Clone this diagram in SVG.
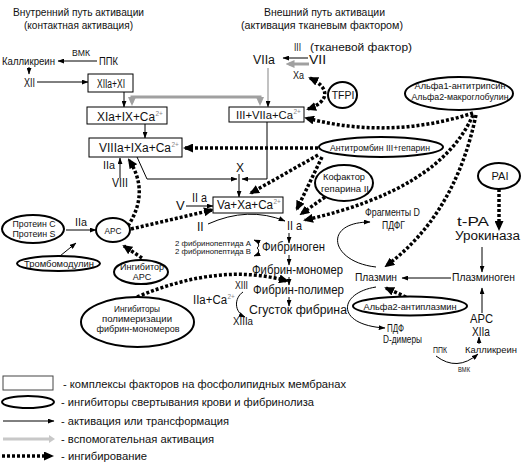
<svg xmlns="http://www.w3.org/2000/svg" width="531" height="463" viewBox="0 0 531 463">
<defs>
<marker id="ah" viewBox="0 0 8 6" markerUnits="userSpaceOnUse" markerWidth="7" markerHeight="5" refX="7.5" refY="3" orient="auto"><path d="M0,0L8,3L0,6z" fill="#000"/></marker>
<marker id="dh" viewBox="0 0 10 9" markerUnits="userSpaceOnUse" markerWidth="10" markerHeight="9" refX="8" refY="4.5" orient="auto-start-reverse"><path d="M0,0L10,4.5L0,9z" fill="#000"/></marker>
<marker id="gh" viewBox="0 0 9 8" markerUnits="userSpaceOnUse" markerWidth="9" markerHeight="8" refX="5.5" refY="4" orient="auto-start-reverse"><path d="M0,0L9,4L0,8z" fill="#a0a0a0"/></marker>
</defs>
<style>
text{font-family:"Liberation Sans",Arial,sans-serif;fill:#111}
.m{text-anchor:middle}
.box{fill:#fff;stroke:#000;stroke-width:1}
.ell{fill:#fff;stroke:#000;stroke-width:2}
.ar{fill:none;stroke:#000;stroke-width:1;marker-end:url(#ah)}
.dt{fill:none;stroke:#000;stroke-width:3.5;stroke-dasharray:3 2;marker-end:url(#dh)}
.gr{fill:none;stroke:#a0a0a0;stroke-width:3;marker-end:url(#gh)}
.sup{font-size:6.5px;fill:#888}
</style>
<rect width="531" height="463" fill="#fff"/>

<g id="headers">
<text x="13" y="16" font-size="10.5" textLength="131" lengthAdjust="spacingAndGlyphs">Внутренний путь активации</text>
<text x="24" y="29" font-size="10.5" textLength="109" lengthAdjust="spacingAndGlyphs">(контактная активация)</text>
<text x="264" y="16" font-size="10.5" textLength="121" lengthAdjust="spacingAndGlyphs">Внешний путь активации</text>
<text x="241" y="29" font-size="10.5" textLength="162" lengthAdjust="spacingAndGlyphs">(активация тканевым фактором)</text>
</g>

<g id="connectors">
<path class="ar" d="M97,61L58,61"/>
<path class="ar" d="M29,67L29,74"/>
<path class="ar" d="M37,82L88,82"/>
<path class="ar" d="M124,92L124,107"/>
<path class="ar" d="M145,124L145,138"/>
<path class="ar" d="M120,178L120,158"/>
<path class="ar" d="M137,157L147,179L237,179"/>
<path class="ar" d="M267,122L267,179L242,179"/>
<path class="ar" d="M239,174L239,197"/>
<path class="ar" d="M186,206L213,206"/>
<path class="ar" d="M208,224Q248,206 285,221"/>
<path class="ar" d="M289,233L289,243"/>
<path class="ar" d="M289,255L289,265"/>
<path class="ar" d="M289,277L289,285"/>
<path class="ar" d="M289,297L289,306"/>
<path class="ar" d="M257,248C260,246 259,242 254,240"/>
<path class="ar" d="M257,248C260,250 259,254 254,256"/>
<path class="ar" d="M243,292C234,298 234,312 245,317"/>
<path class="ar" d="M66,230L96,230"/>
<path class="ar" d="M60,256L76,243"/>
<path class="ar" d="M308,58L283,58"/>
<path class="ar" d="M482,247L482,272"/>
<path class="ar" d="M451,278L402,278"/>
<path class="ar" d="M376,267C330,262 322,222 370,222"/>
<path class="ar" d="M376,287C338,293 335,325 385,328"/>
<path class="ar" d="M482,313L482,288"/>
<path class="ar" d="M479,344L479,337"/>
<path class="ar" d="M436,356Q457,372 478,354"/>
<path class="gr" d="M309,64L289,64"/>
<path d="M268,68L268,107" fill="none" stroke="#999" stroke-width="1.2" marker-end="url(#ah)"/>
<path class="gr" d="M132,102.5L132,97L260,97L260,102.5" marker-start="url(#gh)"/>
<path class="dt" d="M310,78C331,88 329,102 308,109" marker-start="url(#dh)"/>
<path class="dt" d="M473,113Q390,140 306,118"/>
<path class="dt" d="M473,115Q440,190 305,220"/>
<path class="dt" d="M476,115Q455,215 386,266"/>
<path class="dt" d="M318,148L185,148"/>
<path class="dt" d="M318,155L251,193"/>
<path class="dt" d="M322,157L297,209"/>
<path class="dt" d="M325,197L301,214"/>
<path class="dt" d="M128,226Q150,192 129,160"/>
<path class="dt" d="M131,229L212,210"/>
<path class="dt" d="M142,258L124,246"/>
<path class="dt" d="M137,297Q220,262 287,281"/>
<path class="dt" d="M406,297L386,288"/>
<path class="dt" d="M499,189L499,229"/>
</g>

<g id="n-kallikrein-left">
<text x="72" y="56" font-size="8.5" textLength="18" lengthAdjust="spacingAndGlyphs">ВМК</text>
<text x="2" y="65" font-size="11" textLength="53" lengthAdjust="spacingAndGlyphs">Калликреин</text>
<text x="99" y="65" font-size="11" textLength="19" lengthAdjust="spacingAndGlyphs">ППК</text>
</g>
<g id="n-XII"><text x="24" y="87" font-size="12" textLength="11" lengthAdjust="spacingAndGlyphs">XII</text></g>

<g id="n-XIIa-XI">
<rect class="box" x="88" y="74" width="45" height="18"/>
<text x="97" y="88" font-size="12" textLength="28" lengthAdjust="spacingAndGlyphs">XIIa+XI</text>
</g>
<g id="n-XIa-IX">
<rect class="box" x="87" y="107" width="80" height="17"/>
<text x="97" y="121" font-size="12" textLength="58" lengthAdjust="spacingAndGlyphs">XIa+IX+Ca</text>
<text class="sup" x="155.5" y="116">2+</text>
</g>
<g id="n-VIIIa-IXa">
<rect class="box" x="89" y="138" width="93" height="19"/>
<text x="99" y="152" font-size="12" textLength="72" lengthAdjust="spacingAndGlyphs">VIIIa+IXa+Ca</text>
<text class="sup" x="171.5" y="147">2+</text>
</g>
<g id="n-III-VIIa">
<rect class="box" x="229" y="107" width="75" height="15"/>
<text x="236" y="119" font-size="11.5" textLength="57" lengthAdjust="spacingAndGlyphs">III+VIIa+Ca</text>
<text class="sup" x="293.5" y="114">2+</text>
</g>
<g id="n-Va-Xa">
<rect class="box" x="213" y="197" width="70" height="16"/>
<text x="217" y="209" font-size="12" textLength="56" lengthAdjust="spacingAndGlyphs">Va+Xa+Ca</text>
<text class="sup" x="273.5" y="204">2+</text>
</g>

<g id="n-tissue-factor">
<text x="294" y="50.5" font-size="11" textLength="7" lengthAdjust="spacingAndGlyphs">III</text>
<text x="310" y="50.5" font-size="11" textLength="102" lengthAdjust="spacingAndGlyphs">(тканевой фактор)</text>
</g>
<g id="n-VIIa"><text x="253" y="64" font-size="12.5" textLength="22" lengthAdjust="spacingAndGlyphs">VIIa</text></g>
<g id="n-VII"><text x="309" y="64" font-size="12" textLength="17" lengthAdjust="spacingAndGlyphs">VII</text></g>
<g id="n-Xa"><text x="293" y="79" font-size="10" textLength="11" lengthAdjust="spacingAndGlyphs">Xa</text></g>

<g id="n-TFPI">
<ellipse class="ell" cx="342.5" cy="95" rx="14.5" ry="13"/>
<text class="m" x="343" y="99" font-size="10.5">TFPI</text>
</g>
<g id="n-alpha">
<ellipse class="ell" cx="459" cy="93.5" rx="54" ry="16.5"/>
<text class="m" x="460" y="89" font-size="9.5" textLength="91" lengthAdjust="spacingAndGlyphs">Альфа1-антитрипсин</text>
<text class="m" x="460" y="100" font-size="9.5" textLength="97" lengthAdjust="spacingAndGlyphs">Альфа2-макроглобулин</text>
</g>
<g id="n-antithrombin">
<ellipse class="ell" cx="381" cy="147" rx="62" ry="10"/>
<text class="m" x="380" y="151" font-size="9" textLength="100" lengthAdjust="spacingAndGlyphs">Антитромбин III+гепарин</text>
</g>
<g id="n-cofactor">
<ellipse class="ell" cx="344" cy="183" rx="29" ry="18"/>
<text class="m" x="344" y="180" font-size="9" textLength="42" lengthAdjust="spacingAndGlyphs">Кофактор</text>
<text class="m" x="345" y="192" font-size="9" textLength="48" lengthAdjust="spacingAndGlyphs">гепарина II</text>
</g>
<g id="n-PAI">
<ellipse class="ell" cx="499" cy="176" rx="21" ry="13"/>
<text class="m" x="500" y="180" font-size="11">PAI</text>
</g>
<g id="n-tPA">
<text x="457" y="226" font-size="12" textLength="32" lengthAdjust="spacingAndGlyphs">t-PA</text>
<text x="455" y="240" font-size="12" textLength="65" lengthAdjust="spacingAndGlyphs">Урокиназа</text>
</g>
<g id="n-plasminogen"><text x="452" y="281" font-size="11.5" textLength="63" lengthAdjust="spacingAndGlyphs">Плазминоген</text></g>
<g id="n-plasmin"><text x="355" y="281" font-size="11.5" textLength="42" lengthAdjust="spacingAndGlyphs">Плазмин</text></g>
<g id="n-fragments">
<text x="365" y="216" font-size="11" textLength="55" lengthAdjust="spacingAndGlyphs">Фрагменты D</text>
<text x="382" y="229" font-size="11" textLength="23" lengthAdjust="spacingAndGlyphs">ПДФГ</text>
</g>
<g id="n-antiplasmin">
<ellipse class="ell" cx="410" cy="306" rx="57" ry="9.5"/>
<text class="m" x="410" y="309.5" font-size="9.5" textLength="93" lengthAdjust="spacingAndGlyphs">Альфа2-антиплазмин</text>
</g>
<g id="n-PDF">
<text x="387" y="332" font-size="11" textLength="17" lengthAdjust="spacingAndGlyphs">ПДФ</text>
<text x="383" y="343" font-size="10.5" textLength="39" lengthAdjust="spacingAndGlyphs">D-димеры</text>
</g>
<g id="n-APC-XIIa-right">
<text x="470" y="323" font-size="12" textLength="23" lengthAdjust="spacingAndGlyphs">APC</text>
<text x="472" y="336" font-size="12" textLength="18" lengthAdjust="spacingAndGlyphs">XIIa</text>
</g>
<g id="n-kallikrein-right">
<text x="433" y="353" font-size="9" textLength="14" lengthAdjust="spacingAndGlyphs">ППК</text>
<text x="465" y="353" font-size="9" textLength="52" lengthAdjust="spacingAndGlyphs">Калликреин</text>
<text x="458" y="372" font-size="8" textLength="12" lengthAdjust="spacingAndGlyphs">ВМК</text>
</g>

<g id="n-X"><text x="236" y="172" font-size="12">X</text></g>
<g id="n-V"><text x="176" y="210" font-size="13">V</text><text x="192" y="202" font-size="12" textLength="15" lengthAdjust="spacingAndGlyphs">II a</text></g>
<g id="n-II"><text x="197" y="231" font-size="12">II</text></g>
<g id="n-IIa"><text x="287" y="230" font-size="13" textLength="15" lengthAdjust="spacingAndGlyphs">II a</text></g>
<g id="n-fibrinogen"><text x="262" y="251" font-size="12.5" textLength="63" lengthAdjust="spacingAndGlyphs">Фибриноген</text></g>
<g id="n-fibrinopeptides">
<text x="175" y="246" font-size="8" textLength="76" lengthAdjust="spacingAndGlyphs">2 фибринопептида А</text>
<text x="175" y="253.5" font-size="8" textLength="76" lengthAdjust="spacingAndGlyphs">2 фибринопептида В</text>
</g>
<g id="n-monomer"><text x="252" y="274" font-size="12.5" textLength="91" lengthAdjust="spacingAndGlyphs">Фибрин-мономер</text></g>
<g id="n-polymer"><text x="253" y="294" font-size="12.5" textLength="91" lengthAdjust="spacingAndGlyphs">Фибрин-полимер</text></g>
<g id="n-clot"><text x="249" y="314" font-size="12.5" textLength="98" lengthAdjust="spacingAndGlyphs">Сгусток фибрина</text></g>
<g id="n-XIII">
<text x="235" y="289" font-size="10" textLength="13" lengthAdjust="spacingAndGlyphs">XIII</text>
<text x="193" y="304" font-size="12" textLength="34" lengthAdjust="spacingAndGlyphs">IIa+Ca</text>
<text class="sup" x="227.5" y="299">2+</text>
<text x="233" y="325" font-size="10" textLength="20" lengthAdjust="spacingAndGlyphs">XIIIa</text>
</g>

<g id="n-VIII"><text x="103" y="169" font-size="11" textLength="12" lengthAdjust="spacingAndGlyphs">IIa</text><text x="112" y="187" font-size="12" textLength="16" lengthAdjust="spacingAndGlyphs">VIII</text></g>
<g id="n-proteinCS">
<ellipse class="ell" cx="33" cy="229" rx="31" ry="14"/>
<text class="m" x="34" y="227" font-size="9" textLength="43" lengthAdjust="spacingAndGlyphs">Протеин C</text>
<text class="m" x="34" y="237" font-size="9" textLength="43" lengthAdjust="spacingAndGlyphs">Протеин S</text>
</g>
<g id="n-IIa-left"><text x="75" y="226" font-size="11" textLength="12" lengthAdjust="spacingAndGlyphs">IIa</text></g>
<g id="n-APC">
<ellipse class="ell" cx="113" cy="230" rx="17" ry="12"/>
<text class="m" x="113" y="234" font-size="9" textLength="17" lengthAdjust="spacingAndGlyphs">APC</text>
</g>
<g id="n-thrombomodulin">
<ellipse class="ell" cx="58.5" cy="263.5" rx="41.5" ry="7.5"/>
<text class="m" x="59" y="267" font-size="9.5" textLength="70" lengthAdjust="spacingAndGlyphs">Тромбомодулин</text>
</g>
<g id="n-APC-inhibitor">
<ellipse class="ell" cx="141" cy="272" rx="27" ry="12"/>
<text class="m" x="142" y="270" font-size="9">Ингибитор</text>
<text class="m" x="142" y="280" font-size="9">APC</text>
</g>
<g id="n-polymerization-inhibitors">
<ellipse class="ell" cx="137.5" cy="322" rx="56.5" ry="25"/>
<text class="m" x="137" y="312" font-size="9.5" textLength="46" lengthAdjust="spacingAndGlyphs">Ингибиторы</text>
<text class="m" x="137" y="322" font-size="9.5" textLength="70" lengthAdjust="spacingAndGlyphs">полимеризации</text>
<text class="m" x="138" y="332" font-size="9.5" textLength="83" lengthAdjust="spacingAndGlyphs">фибрин-мономеров</text>
</g>

<g id="legend">
<rect x="3" y="376" width="50" height="14" fill="#fff" stroke="#444" stroke-width="1"/>
<text x="63" y="388" font-size="11.5" textLength="283" lengthAdjust="spacingAndGlyphs">- комплексы факторов на фосфолипидных мембранах</text>
<ellipse class="ell" cx="28" cy="402" rx="26" ry="6"/>
<text x="61" y="406" font-size="11.5" textLength="253" lengthAdjust="spacingAndGlyphs">- ингибиторы свертывания крови и фибринолиза</text>
<path class="ar" d="M3,421L54,421"/>
<text x="61" y="425" font-size="11.5" textLength="168" lengthAdjust="spacingAndGlyphs">- активация или трансформация</text>
<path d="M3,439L49,439" fill="none" stroke="#c8c8c8" stroke-width="3"/>
<path d="M49,435L55,439L49,443z" fill="#c8c8c8"/>
<text x="61" y="443" font-size="11.5" textLength="153" lengthAdjust="spacingAndGlyphs">- вспомогательная активация</text>
<path class="dt" d="M2,456L52,456"/>
<text x="61" y="460" font-size="11.5" textLength="86" lengthAdjust="spacingAndGlyphs">- ингибирование</text>
</g>
</svg>
